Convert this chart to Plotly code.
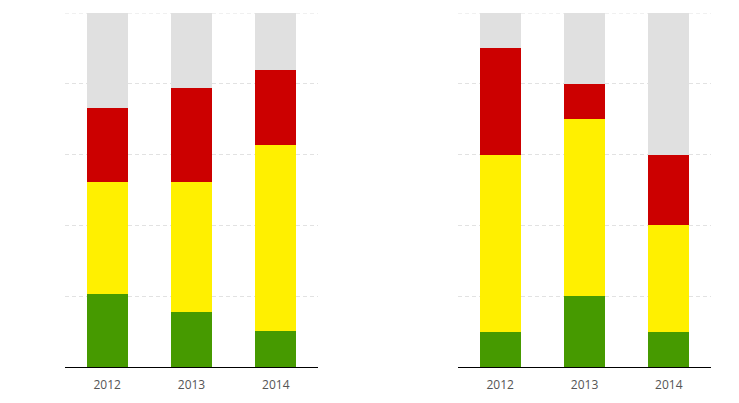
import plotly.graph_objects as go

years = ["2012", "2013", "2014"]

left_green = [20.7, 15.6, 10.2]
left_yellow = [31.7, 36.8, 52.6]
left_red = [20.9, 26.3, 21.0]
left_gray = [26.7, 21.3, 16.2]

right_green = [10, 20, 10]
right_yellow = [50, 50, 30]
right_red = [30, 10, 20]
right_gray = [10, 20, 40]

colors = {"green": "#469a00", "yellow": "#fff000", "red": "#cc0000", "gray": "#e0e0e0"}
grid_color = "#e2e2e2"

fig = go.Figure()
series_left = [("green", left_green), ("yellow", left_yellow), ("red", left_red), ("gray", left_gray)]
series_right = [("green", right_green), ("yellow", right_yellow), ("red", right_red), ("gray", right_gray)]

for name, vals in series_left:
    fig.add_trace(go.Bar(x=years, y=vals, marker=dict(color=colors[name], line=dict(width=0)),
                         xaxis="x", yaxis="y", showlegend=False, name=name))
for name, vals in series_right:
    fig.add_trace(go.Bar(x=years, y=vals, marker=dict(color=colors[name], line=dict(width=0)),
                         xaxis="x2", yaxis="y2", showlegend=False, name=name))

xcommon = dict(showline=True, linecolor="#000000", linewidth=1, showgrid=False, ticks="",
               tickfont=dict(family="Open Sans, Noto Sans, sans-serif", size=12, color="#555555"),
               ticklabelstandoff=7, automargin=False, fixedrange=True)
ycommon = dict(range=[0, 100], dtick=20, showticklabels=False, showgrid=True, gridcolor=grid_color,
               griddash="4px,3px", gridwidth=1, zeroline=False, showline=False, ticks="",
               automargin=False)

fig.update_layout(
    barmode="stack",
    bargap=0.51,
    width=739, height=403,
    margin=dict(l=65, r=28, t=13, b=36),
    plot_bgcolor="white", paper_bgcolor="white",
    xaxis=dict(domain=[0, 0.3916], anchor="y", **xcommon),
    yaxis=dict(domain=[0, 1], anchor="x", **ycommon),
    xaxis2=dict(domain=[0.6084, 1], anchor="y2", **xcommon),
    yaxis2=dict(domain=[0, 1], anchor="x2", **ycommon),
)

# top gridline at 100 (plotly omits grid at the range edge)
for xr, yr in [("x domain", "y"), ("x2 domain", "y2")]:
    fig.add_shape(type="line", xref=xr, yref=yr, x0=0, x1=1, y0=100, y1=100,
                  line=dict(color=grid_color, width=1, dash="4px,3px"), layer="below")

fig.write_html("out.html")
